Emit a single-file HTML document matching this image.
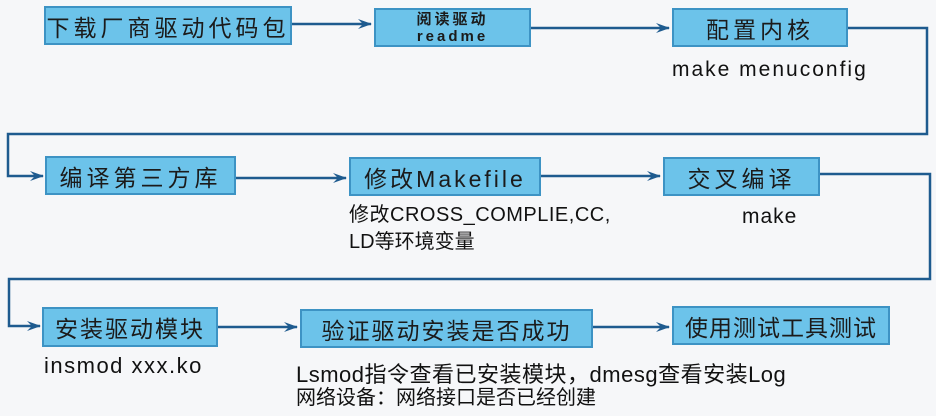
<!DOCTYPE html>
<html><head><meta charset="utf-8"><style>
body{margin:0;width:936px;height:416px;background:#f6f7f9;overflow:hidden;position:relative;font-family:"Liberation Sans","Noto Sans CJK SC",sans-serif;color:#1a1a1a}
.b{position:absolute;background:#6cc3ea;border:2px solid #3d93c4;box-sizing:border-box;display:flex;align-items:center;justify-content:center;font-size:23px;letter-spacing:3px;color:#1b1b1b;white-space:nowrap}
.t{position:absolute;font-size:21px;color:#111;white-space:nowrap;line-height:24px}
svg{position:absolute;left:0;top:0}
</style></head><body>
<svg width="936" height="416">
<defs><marker id="a" markerWidth="14" markerHeight="10" refX="13" refY="5" orient="auto" markerUnits="userSpaceOnUse"><path d="M0,0 L14,5 L0,10 L5,5 Z" fill="#1e5b8f"/></marker></defs>
<g stroke="#1e5b8f" stroke-width="2.5" fill="none">
<line x1="292" y1="24" x2="371" y2="24" marker-end="url(#a)"/>
<line x1="531" y1="28" x2="669" y2="28" marker-end="url(#a)"/>
<polyline points="848,28 927,28 927,134 8,134 8,176 43,176" marker-end="url(#a)"/>
<line x1="236" y1="178" x2="346" y2="178" marker-end="url(#a)"/>
<line x1="541" y1="176" x2="660" y2="176" marker-end="url(#a)"/>
<polyline points="820,174 930,174 930,279 9,279 9,326 40,326" marker-end="url(#a)"/>
<line x1="218" y1="327" x2="297" y2="327" marker-end="url(#a)"/>
<line x1="593" y1="327" x2="669" y2="327" marker-end="url(#a)"/>
</g></svg>
<div class="b" style="left:44px;top:6px;width:248px;height:39px;letter-spacing:4px">下载厂商驱动代码包</div>
<div class="b" style="left:374px;top:8px;width:157px;height:39px;flex-direction:column;font-size:15px;line-height:17px;font-weight:bold;letter-spacing:3px">阅读驱动<span>readme</span></div>
<div class="b" style="left:672px;top:8px;width:176px;height:39px;letter-spacing:4px">配置内核</div>
<div class="b" style="left:45px;top:156px;width:191px;height:39px;letter-spacing:4px">编译第三方库</div>
<div class="b" style="left:349px;top:157px;width:192px;height:39px">修改Makefile</div>
<div class="b" style="left:663px;top:157px;width:157px;height:39px;letter-spacing:4px">交叉编译</div>
<div class="b" style="left:42px;top:307px;width:176px;height:40px;letter-spacing:2px">安装驱动模块</div>
<div class="b" style="left:300px;top:309px;width:293px;height:39px;letter-spacing:2px">验证驱动安装是否成功</div>
<div class="b" style="left:672px;top:306px;width:218px;height:39px;letter-spacing:1px">使用测试工具测试</div>
<div class="t" style="left:672px;top:58px;letter-spacing:2px">make menuconfig</div>
<div class="t" style="left:349px;top:203px;font-size:20px;letter-spacing:0.5px">修改CROSS_COMPLIE,CC,</div>
<div class="t" style="left:349px;top:230px;font-size:20px">LD等环境变量</div>
<div class="t" style="left:742px;top:205px;letter-spacing:1px">make</div>
<div class="t" style="left:44px;top:354px;letter-spacing:1.5px;font-size:22px">insmod xxx.ko</div>
<div class="t" style="left:296px;top:363px;font-size:22px;letter-spacing:0.5px">Lsmod指令查看已安装模块，dmesg查看安装Log</div>
<div class="t" style="left:296px;top:386px;font-size:20px">网络设备：网络接口是否已经创建</div>
</body></html>
